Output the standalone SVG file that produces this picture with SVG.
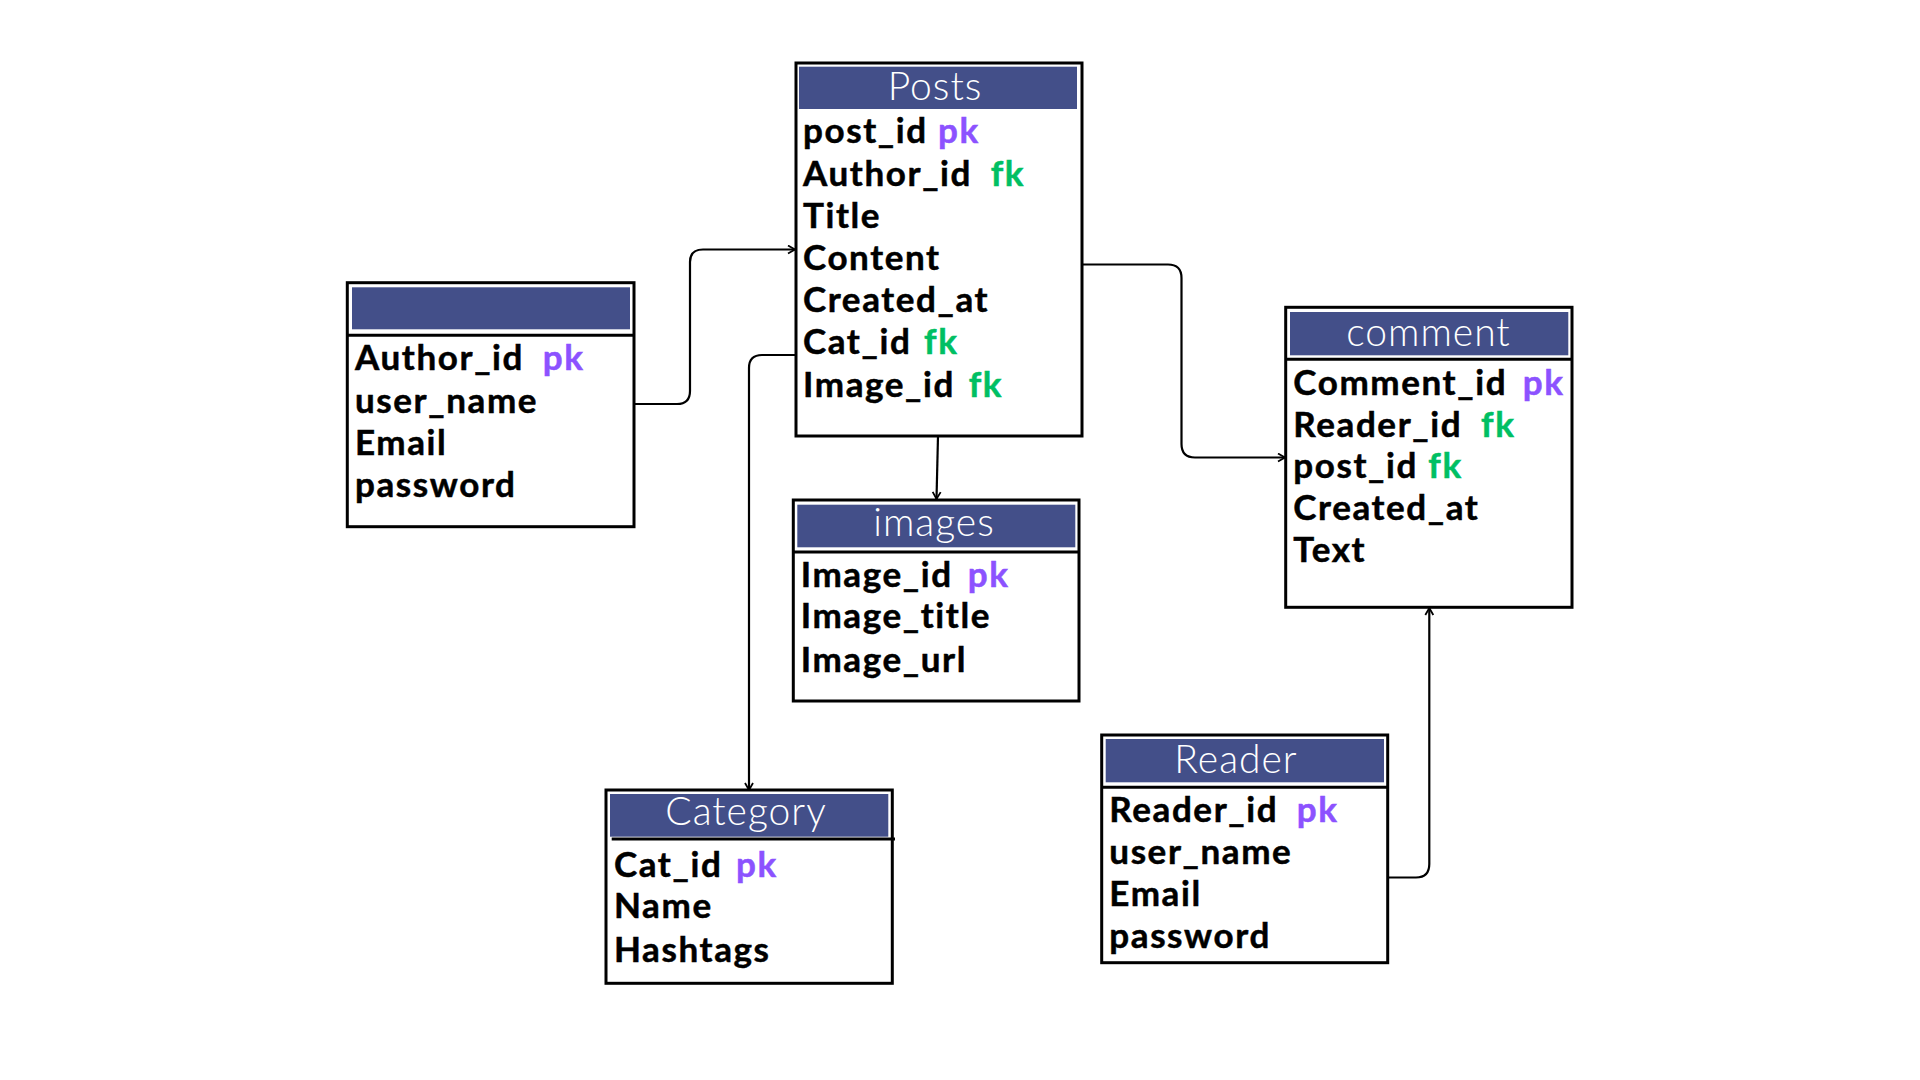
<svg xmlns="http://www.w3.org/2000/svg" width="1920" height="1080" viewBox="0 0 1920 1080">
<defs>
<style>
.box{fill:#fff;stroke:#000;stroke-width:3}
.hdr{fill:#434f89}
.sep{stroke:#000;stroke-width:3}
.title{font-family:Lato,"Open Sans","Liberation Sans",sans-serif;font-weight:300;font-size:39px;letter-spacing:1px;fill:#fff;text-anchor:middle}
.row{font-family:Lato,"Liberation Sans",sans-serif;font-weight:700;font-size:35px;letter-spacing:1.6px;fill:#000;stroke:#000;stroke-width:0.5}
.pk{fill:#8c52ff;stroke:#8c52ff}
.fk{fill:#00bf63;stroke:#00bf63}
.conn{fill:none;stroke:#000;stroke-width:2.2}
</style>
<marker id="arr" markerWidth="12" markerHeight="12" refX="9" refY="5" orient="auto" markerUnits="userSpaceOnUse">
<path d="M2,1 L9,5 L2,9" fill="none" stroke="#000" stroke-width="1.8"/>
</marker>
</defs>
<rect width="1920" height="1080" fill="#fff"/>

<g id="connectors">
<path class="conn" d="M634,404 H677 Q690,404 690,391 V262 Q690,249.5 703,249.5 H795" marker-end="url(#arr)"/>
<path class="conn" d="M795,355 H762 Q749,355 749,368 V790" marker-end="url(#arr)"/>
<path class="conn" d="M938,436 L936.5,499" marker-end="url(#arr)"/>
<path class="conn" d="M1082,264.5 H1168 Q1181.5,264.5 1181.5,278 V444 Q1181.5,457.5 1195,457.5 H1285" marker-end="url(#arr)"/>
<path class="conn" d="M1387.7,877.5 H1416 Q1429.3,877.5 1429.3,864 V608" marker-end="url(#arr)"/>
</g>

<g id="posts">
<rect class="box" x="796" y="63" width="286" height="373"/>
<rect class="hdr" x="799" y="66.7" width="278" height="42.3"/>
<text class="title" x="935" y="100">Posts</text>
<text class="row" x="803" y="143">post_id<tspan class="pk" x="938">pk</tspan></text>
<text class="row" x="803" y="186">Author_id<tspan class="fk" x="990.7">fk</tspan></text>
<text class="row" x="803" y="227.5">Title</text>
<text class="row" x="803" y="270">Content</text>
<text class="row" x="803" y="312">Created_at</text>
<text class="row" x="803" y="353.5">Cat_id<tspan class="fk" x="924">fk</tspan></text>
<text class="row" x="803" y="396.5">Image_id<tspan class="fk" x="968.7">fk</tspan></text>
</g>

<g id="author">
<rect class="box" x="347.3" y="282.7" width="286.7" height="244"/>
<rect class="hdr" x="352" y="287.3" width="278" height="42"/>
<line class="sep" x1="347.3" y1="335.3" x2="634" y2="335.3"/>
<text class="row" x="355" y="370">Author_id<tspan class="pk" x="542.7">pk</tspan></text>
<text class="row" x="355" y="412.7">user_name</text>
<text class="row" x="355" y="455.3">Email</text>
<text class="row" x="355" y="496.7">password</text>
</g>

<g id="comment">
<rect class="box" x="1285.7" y="307.3" width="286.3" height="300"/>
<rect class="hdr" x="1290" y="312" width="278.3" height="43.3"/>
<line class="sep" x1="1285.7" y1="359.3" x2="1572" y2="359.3"/>
<text class="title" x="1428.5" y="345.7">comment</text>
<text class="row" x="1293.3" y="395">Comment_id<tspan class="pk" x="1522.7">pk</tspan></text>
<text class="row" x="1293.3" y="436.7">Reader_id<tspan class="fk" x="1481">fk</tspan></text>
<text class="row" x="1293.3" y="478.3">post_id<tspan class="fk" x="1428.3">fk</tspan></text>
<text class="row" x="1293.3" y="520">Created_at</text>
<text class="row" x="1293.3" y="561.7">Text</text>
</g>

<g id="images">
<rect class="box" x="793.3" y="500" width="285.7" height="201"/>
<rect class="hdr" x="797.3" y="504.7" width="278" height="42.6"/>
<line class="sep" x1="793.3" y1="552" x2="1079" y2="552"/>
<text class="title" x="934" y="535.7">images</text>
<text class="row" x="800.7" y="586.7">Image_id<tspan class="pk" x="967.7">pk</tspan></text>
<text class="row" x="800.7" y="628.3">Image_title</text>
<text class="row" x="800.7" y="671.7">Image_url</text>
</g>

<g id="category">
<rect class="box" x="606" y="790" width="286.3" height="193.3"/>
<rect class="hdr" x="610" y="794" width="278.3" height="42.7"/>
<line class="sep" x1="611.7" y1="839" x2="895" y2="839"/>
<text class="title" x="746" y="825">Category</text>
<text class="row" x="614" y="876.7">Cat_id<tspan class="pk" x="736">pk</tspan></text>
<text class="row" x="614" y="918.3">Name</text>
<text class="row" x="614" y="961.7">Hashtags</text>
</g>

<g id="reader">
<rect class="box" x="1101.7" y="735" width="286" height="227.7"/>
<rect class="hdr" x="1105.7" y="739" width="278.3" height="43.3"/>
<line class="sep" x1="1101.7" y1="787.3" x2="1387.7" y2="787.3"/>
<text class="title" x="1236" y="773.3">Reader</text>
<text class="row" x="1109.3" y="821.7">Reader_id<tspan class="pk" x="1296.7">pk</tspan></text>
<text class="row" x="1109.3" y="864">user_name</text>
<text class="row" x="1109.3" y="906">Email</text>
<text class="row" x="1109.3" y="948.3">password</text>
</g>
</svg>
